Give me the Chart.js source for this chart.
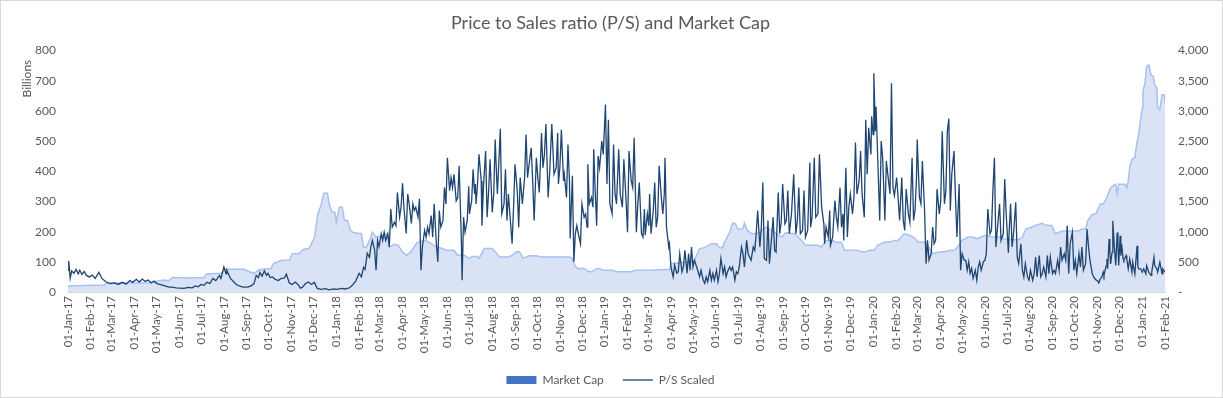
<!DOCTYPE html>
<html>
<head>
<meta charset="utf-8">
<title>Price to Sales ratio (P/S) and Market Cap</title>
<script src="https://cdn.jsdelivr.net/npm/chart.js@4.4.1/dist/chart.umd.min.js"></script>
<style>
    html, body { margin: 0; padding: 0; background: #fff; }
    #wrap { position: relative; width: 1223px; height: 398px; box-sizing: border-box; border: 1px solid #d9d9d9; }
    canvas { display: block; }
</style>
</head>
<body>
<div id="wrap"><canvas id="chart"></canvas></div>
<script>
// x values are days since 01-Jan-17
const tickLabels = [
    '01-Jan-17', '01-Feb-17', '01-Mar-17', '01-Apr-17', '01-May-17', '01-Jun-17', '01-Jul-17', '01-Aug-17', '01-Sep-17', '01-Oct-17', '01-Nov-17', '01-Dec-17',
    '01-Jan-18', '01-Feb-18', '01-Mar-18', '01-Apr-18', '01-May-18', '01-Jun-18', '01-Jul-18', '01-Aug-18', '01-Sep-18', '01-Oct-18', '01-Nov-18', '01-Dec-18',
    '01-Jan-19', '01-Feb-19', '01-Mar-19', '01-Apr-19', '01-May-19', '01-Jun-19', '01-Jul-19', '01-Aug-19', '01-Sep-19', '01-Oct-19', '01-Nov-19', '01-Dec-19',
    '01-Jan-20', '01-Feb-20', '01-Mar-20', '01-Apr-20', '01-May-20', '01-Jun-20', '01-Jul-20', '01-Aug-20', '01-Sep-20', '01-Oct-20', '01-Nov-20', '01-Dec-20',
    '01-Jan-21', '01-Feb-21'
];

// Market Cap, billions (left axis)
const marketCap = [
    [0,20],[29,22],[49,23],[53,30],[83,30],[110,31],[120,36],[124,37],[131,40],[137,37],[142,48],[165,46],[185,48],[188,60],[208,62],[215,75],
    [240,75],[246,68],[253,62],[260,74],[276,78],[280,96],[291,105],[301,105],[305,127],[314,127],[319,140],[328,145],[332,165],[335,180],[340,260],
    [344,286],[348,327],[353,327],[355,293],[359,264],[363,264],[365,231],[369,281],[373,281],[376,237],[380,237],[384,205],[388,197],[396,194],
    [399,194],[402,149],[406,149],[410,171],[414,198],[419,182],[423,184],[434,194],[437,149],[444,158],[449,155],[455,132],[461,122],[467,135],
    [474,162],[485,171],[491,165],[501,149],[508,145],[515,138],[525,138],[530,122],[539,122],[546,111],[550,118],[557,118],[559,111],[566,144],
    [577,144],[583,128],[587,116],[598,116],[603,120],[610,133],[614,133],[619,112],[628,120],[637,120],[644,116],[682,116],[686,112],[689,89],
    [693,78],[702,78],[709,67],[713,67],[719,78],[723,78],[727,72],[741,72],[745,67],[766,67],[772,72],[791,72],[818,75],[821,94],[845,100],
    [852,105],[859,144],[866,147],[875,160],[882,160],[886,147],[890,147],[893,166],[900,198],[904,228],[908,226],[911,209],[918,210],[920,228],
    [924,204],[930,193],[935,193],[941,198],[949,215],[957,204],[964,193],[971,182],[976,196],[988,193],[998,171],[1003,155],[1020,155],[1025,149],
    [1031,171],[1039,171],[1045,165],[1052,165],[1056,138],[1074,138],[1080,133],[1085,133],[1090,138],[1097,138],[1101,155],[1111,166],[1118,166],
    [1124,171],[1129,171],[1137,193],[1145,188],[1152,177],[1156,166],[1165,166],[1169,155],[1176,127],[1186,133],[1192,133],[1199,138],[1206,138],
    [1210,149],[1216,171],[1224,182],[1229,182],[1237,177],[1247,188],[1256,182],[1267,182],[1274,176],[1284,173],[1292,173],[1298,182],[1303,209],
    [1308,212],[1315,220],[1325,228],[1329,222],[1338,220],[1343,193],[1352,202],[1374,202],[1379,209],[1384,209],[1387,237],[1393,257],[1398,259],
    [1404,292],[1408,292],[1413,313],[1417,341],[1421,352],[1425,357],[1427,325],[1429,357],[1438,357],[1440,346],[1442,368],[1444,412],[1447,440],
    [1451,445],[1454,500],[1455,505],[1458,555],[1461,610],[1462,664],[1465,697],[1467,747],[1470,752],[1473,719],[1476,715],[1478,686],[1481,676],
    [1482,610],[1485,605],[1488,654],[1491,654],[1492,626]
];

// P/S Scaled (right axis)
const psScaled = [
    [0,360],[1,515],[3,230],[5,350],[8,310],[11,375],[14,300],[16,360],[19,290],[22,340],[25,275],[29,250],[33,280],[37,225],[42,325],[46,225],[52,165],[57,140],[63,150],[68,125],[74,160],[79,130],[84,190],[88,160],[93,210],[97,165],[101,215],[105,175],[109,200],[113,150],[117,180],[121,140],[127,120],[132,100],[137,80],
    [142,80],[147,70],[152,65],[158,60],[163,75],[169,70],[173,100],[177,85],[181,125],[185,110],[189,160],[193,140],[197,225],[201,190],[206,275],[208,225],[212,415],[215,300],[216,360],[221,225],[225,175],[229,125],[233,100],[238,80],[244,80],[249,100],[253,140],[256,275],[259,240],[261,325],[264,260],[267,350],[270,275],[272,310],[275,240],[278,250],[282,210],[286,190],[290,225],[294,230],[297,295],
    [301,150],[305,125],[309,165],[313,120],[316,65],[319,80],[323,140],[327,165],[331,125],[335,160],[339,60],[344,45],[350,55],[355,35],[361,50],[366,45],[372,60],[377,50],[383,70],[387,115],[391,175],[393,230],[396,310],[399,250],[402,410],[404,375],[407,640],[410,575],[412,750],[414,855],[417,700],[419,360],[421,855],
    [423,750],[426,965],[428,855],[430,990],[432,855],[435,965],[437,745],[439,1375],[441,1075],[444,1155],[446,1100],[448,1650],[451,1240],[453,1405],[455,1800],[457,1380],[460,970],[462,1625],[464,1460],[467,1135],[469,1460],[471,1350],[473,1405],[476,1240],[478,1545],[480,360],[482,745],[485,1020],[487,910],[489,1075],[491,965],[494,1265],[496,910],[498,1460],[501,800],[503,500],[505,1350],[507,1075],[510,1185],[512,1730],[514,1460],[516,2225],[519,1680],[521,1895],[523,1730],[525,1950],[528,1510],[530,1565],[532,2090],[535,855],[536,195],[538,1240],[540,990],[543,1185],
    [545,1750],[546,1295],[549,1515],[551,2035],[553,1625],[554,1790],[555,1460],[557,1790],[559,2280],[562,1840],[563,1100],[565,1730],[568,2335],[570,1240],[572,1650],[574,2200],[577,1320],[579,1625],[581,2525],[583,1895],[584,1625],[588,2705],[590,1295],[593,1460],[595,2035],[597,1185],[599,1625],[604,800],[606,1405],[608,2115],[611,1680],[613,1075],[615,1895],[618,1460],[621,1895],[623,2610],[625,1895],[628,2200],[630,2390],[632,1840],[634,1185],[637,2225],[639,1895],[641,1650],[644,2635],[646,2060],[648,2280],[650,2785],[653,1565],[655,1950],[658,2785],[661,1950],[664,2060],
    [666,2635],[667,1790],[669,2060],[671,2690],[674,1840],[675,1950],[678,1565],[680,2445],[682,1840],[683,885],[686,1925],[688,500],[690,965],[692,1100],[695,910],[697,800],[699,1460],[702,1240],[704,1295],[706,1075],[707,2115],[709,1460],[712,1565],[714,1405],[715,2365],[717,1680],[719,1100],[721,2255],[723,2060],[726,2500],[728,2280],[731,3105],[733,1790],[735,2855],[737,1460],[740,1295],[742,2445],[744,1625],[746,1460],[749,2365],[751,1625],[754,1405],[756,2200],[759,1515],[761,990],[763,2335],[766,1840],[768,1730],[770,2555],[773,990],[775,1460],[777,1815],[780,965],[782,910],[784,1375],
    [785,940],[788,1295],[790,1100],[791,1625],[793,965],[796,1350],[798,1815],[800,1075],[802,1240],[804,2090],[807,1565],[809,1295],[811,1625],[812,2225],[814,1075],[817,745],[818,800],[820,415],[823,250],[825,445],[828,310],[830,335],[832,635],[835,335],[837,415],[839,690],[842,310],[844,635],[846,360],[848,745],[850,415],[852,525],[855,415],[857,335],[859,250],[861,360],[864,195],[866,145],[868,250],[870,170],[873,360],[875,195],[877,305],[879,195],[882,360],[884,170],[886,305],[888,555],[891,305],[893,415],[895,250],[897,335],[900,415],[902,360],[904,415],[907,195],[909,335],[911,305],[913,415],
    [916,745],[918,635],[920,415],[923,855],[925,635],[927,580],[929,525],[932,745],[934,690],[936,965],[938,1350],[941,745],[943,1075],[945,1815],[947,555],[950,525],[952,1185],[954,470],[957,910],[959,1240],[961,690],[963,660],[966,1650],[968,965],[970,1155],[972,1790],[975,1130],[977,1185],[979,1680],[981,965],[984,1295],[987,1950],[990,965],[992,1185],[994,1730],[996,965],[999,1020],[1001,1680],[1003,910],[1006,1020],[1009,2145],[1010,1075],[1012,1240],[1015,2225],[1017,1240],[1020,1295],[1022,2280],[1025,1405],[1028,1130],[1029,800],[1031,1075],[1034,910],
    [1036,1350],[1037,775],[1040,910],[1043,1515],[1045,1240],[1047,1075],[1050,1730],[1052,1075],[1054,1295],[1055,855],[1058,2060],[1060,910],[1062,1405],[1064,1625],[1067,1295],[1069,1565],[1071,2475],[1073,1625],[1076,1840],[1078,2335],[1080,1625],[1083,1240],[1085,2855],[1087,1950],[1089,2720],[1092,2280],[1093,2910],[1095,2610],[1096,3625],[1098,2665],[1099,3075],[1102,1950],[1104,1185],[1106,2500],[1108,2225],[1111,1185],[1113,2170],[1115,1950],[1118,1625],[1120,3460],[1122,1730],[1124,1595],[1127,1895],[1129,1565],[1131,1185],[1134,1895],[1136,1185],[1138,1020],[1140,1705],[1143,1295],[1145,1155],[1148,2225],[1150,1185],[1152,1350],[1154,1895],[1155,2525],[1158,1570],
    [1160,1460],[1162,2170],[1165,1350],[1167,470],[1169,855],[1171,525],[1174,635],[1176,1075],[1178,800],[1180,855],[1182,1705],[1185,1295],[1187,1515],[1189,2665],[1192,1460],[1194,1680],[1196,2665],[1198,2875],[1200,1350],[1202,1950],[1205,2335],[1207,1570],[1209,910],[1212,1790],[1214,360],[1216,635],[1219,525],[1221,525],[1223,360],[1225,500],[1227,310],[1229,390],[1231,225],[1234,360],[1236,195],[1238,415],[1240,500],[1242,360],[1245,500],[1247,525],[1249,635],[1251,1375],[1254,965],[1256,1020],[1258,1705],[1260,2225],[1262,745],[1265,1185],[1267,1460],[1269,855],[1272,965],[1274,1870],[1276,1295],[1279,650],[1280,1000],
    [1282,1460],[1284,745],[1286,965],[1289,1485],[1291,580],[1293,470],[1296,800],[1298,360],[1300,250],[1302,470],[1305,250],[1307,195],[1309,360],[1312,195],[1314,305],[1316,580],[1318,250],[1321,605],[1323,250],[1325,305],[1327,415],[1330,250],[1332,605],[1334,305],[1336,580],[1339,305],[1341,360],[1343,305],[1346,525],[1348,360],[1350,745],[1352,525],[1355,635],[1357,525],[1359,1100],[1361,305],[1363,800],[1366,990],[1368,360],[1370,525],[1372,305],[1375,635],[1377,415],[1379,745],[1381,360],[1384,470],[1386,1045],[1388,745],[1390,525],[1393,305],[1395,250],[1398,200],[1400,190],[1402,150],[1404,220],
    [1406,247],[1408,329],[1409,274],[1412,438],[1413,548],[1414,384],[1416,877],[1417,657],[1418,466],[1420,657],[1421,1178],[1423,767],[1425,438],[1427,986],[1428,767],[1429,438],[1431,931],[1432,603],[1433,795],[1435,548],[1436,521],[1439,603],[1440,548],[1442,384],[1444,548],[1447,329],[1448,493],[1451,301],[1454,767],[1455,438],[1456,384],[1459,384],[1461,329],[1463,384],[1466,301],[1467,438],[1470,329],[1473,274],[1474,329],[1477,575],[1478,438],[1481,384],[1482,329],[1485,493],[1488,301],[1489,384],[1492,329]
];

const MONTHS = ['Jan', 'Feb', 'Mar', 'Apr', 'May', 'Jun', 'Jul', 'Aug', 'Sep', 'Oct', 'Nov', 'Dec'];
const BASE = Date.UTC(2017, 0, 1);
const tickDays = tickLabels.map(l => {
    const p = l.split('-');
    return Math.round((Date.UTC(2000 + parseInt(p[2], 10), MONTHS.indexOf(p[1]), parseInt(p[0], 10)) - BASE) / 86400000);
});

const FONT = 'Lato';
const GREY = '#595959';
const AREA_LEGEND = '#4472c4';
const LINE_COLOR = '#1f4571';

// "Billions" display-unit label sits at the top of the left axis, like Excel
const unitLabel = {
    id: 'unitLabel',
    afterDraw(chart) {
        const { ctx, chartArea } = chart;
        ctx.save();
        ctx.translate(chartArea.left - 41, chartArea.top + 28);
        ctx.rotate(-Math.PI / 2);
        ctx.font = `12px ${FONT}`;
        ctx.fillStyle = GREY;
        ctx.textAlign = 'center';
        ctx.textBaseline = 'middle';
        ctx.fillText('Billions', 0, 0);
        ctx.restore();
    }
};

new Chart(document.getElementById('chart'), {
    type: 'line',
    data: {
        datasets: [
            {
                label: 'Market Cap',
                data: marketCap.map(p => ({ x: p[0], y: p[1] })),
                yAxisID: 'y',
                borderColor: '#a7c1f2',
                borderWidth: 1.5,
                backgroundColor: '#dae3f5',
                fill: 'origin',
                pointRadius: 0,
                tension: 0,
                order: 2
            },
            {
                label: 'P/S Scaled',
                data: psScaled.map(p => ({ x: p[0], y: p[1] })),
                yAxisID: 'y1',
                borderColor: LINE_COLOR,
                borderWidth: 1.3,
                fill: false,
                pointRadius: 0,
                tension: 0,
                order: 1
            }
        ]
    },
    options: {
        responsive: true,
        maintainAspectRatio: false,
        animation: false,
        layout: { padding: { top: 0, left: 10, right: 12, bottom: 1 } },
        plugins: {
            title: {
                display: true,
                text: 'Price to Sales ratio (P/S) and Market Cap',
                color: GREY,
                font: { family: FONT, size: 18, weight: 'normal' },
                padding: { top: 11, bottom: 17 }
            },
            legend: {
                position: 'bottom',
                labels: {
                    color: GREY,
                    font: { family: FONT, size: 12 },
                    usePointStyle: true,
                    pointStyleWidth: 30,
                    boxHeight: 8,
                    padding: 19,
                    generateLabels: function (chart) {
                        const items = Chart.defaults.plugins.legend.labels.generateLabels(chart);
                        items.sort((a, b) => a.datasetIndex - b.datasetIndex);
                        items.forEach(it => {
                            if (it.datasetIndex === 0) {
                                it.pointStyle = 'rect';
                                it.fillStyle = AREA_LEGEND;
                                it.strokeStyle = AREA_LEGEND;
                                it.lineWidth = 0;
                            } else {
                                it.pointStyle = 'line';
                                it.strokeStyle = LINE_COLOR;
                                it.lineWidth = 1.3;
                            }
                        });
                        return items;
                    }
                }
            },
            tooltip: { enabled: false }
        },
        scales: {
            x: {
                type: 'linear',
                min: 0,
                max: 1492,
                grid: { display: false, drawTicks: false },
                border: { display: true, color: '#d9d9d9' },
                afterBuildTicks: s => { s.ticks = tickDays.map(v => ({ value: v })); },
                afterFit: s => { s.height = 63; },
                ticks: {
                    autoSkip: false,
                    minRotation: 90,
                    maxRotation: 90,
                    padding: 4,
                    color: GREY,
                    font: { family: FONT, size: 11.5 },
                    callback: (v, i) => tickLabels[i]
                }
            },
            y: {
                position: 'left',
                min: 0,
                max: 800,
                grid: { display: false, drawTicks: false },
                border: { display: false },
                afterFit: s => { s.width = 57; },
                ticks: { stepSize: 100, padding: 12, color: GREY, font: { family: FONT, size: 12 } }
            },
            y1: {
                position: 'right',
                min: 0,
                max: 4000,
                grid: { display: false, drawTicks: false },
                border: { display: false },
                afterFit: s => { s.width = 45; },
                ticks: {
                    stepSize: 500,
                    padding: 13,
                    color: GREY,
                    font: { family: FONT, size: 12 },
                    callback: v => v === 0 ? '-' : v.toLocaleString('en-US')
                }
            }
        }
    },
    plugins: [unitLabel]
});
</script>
</body>
</html>
